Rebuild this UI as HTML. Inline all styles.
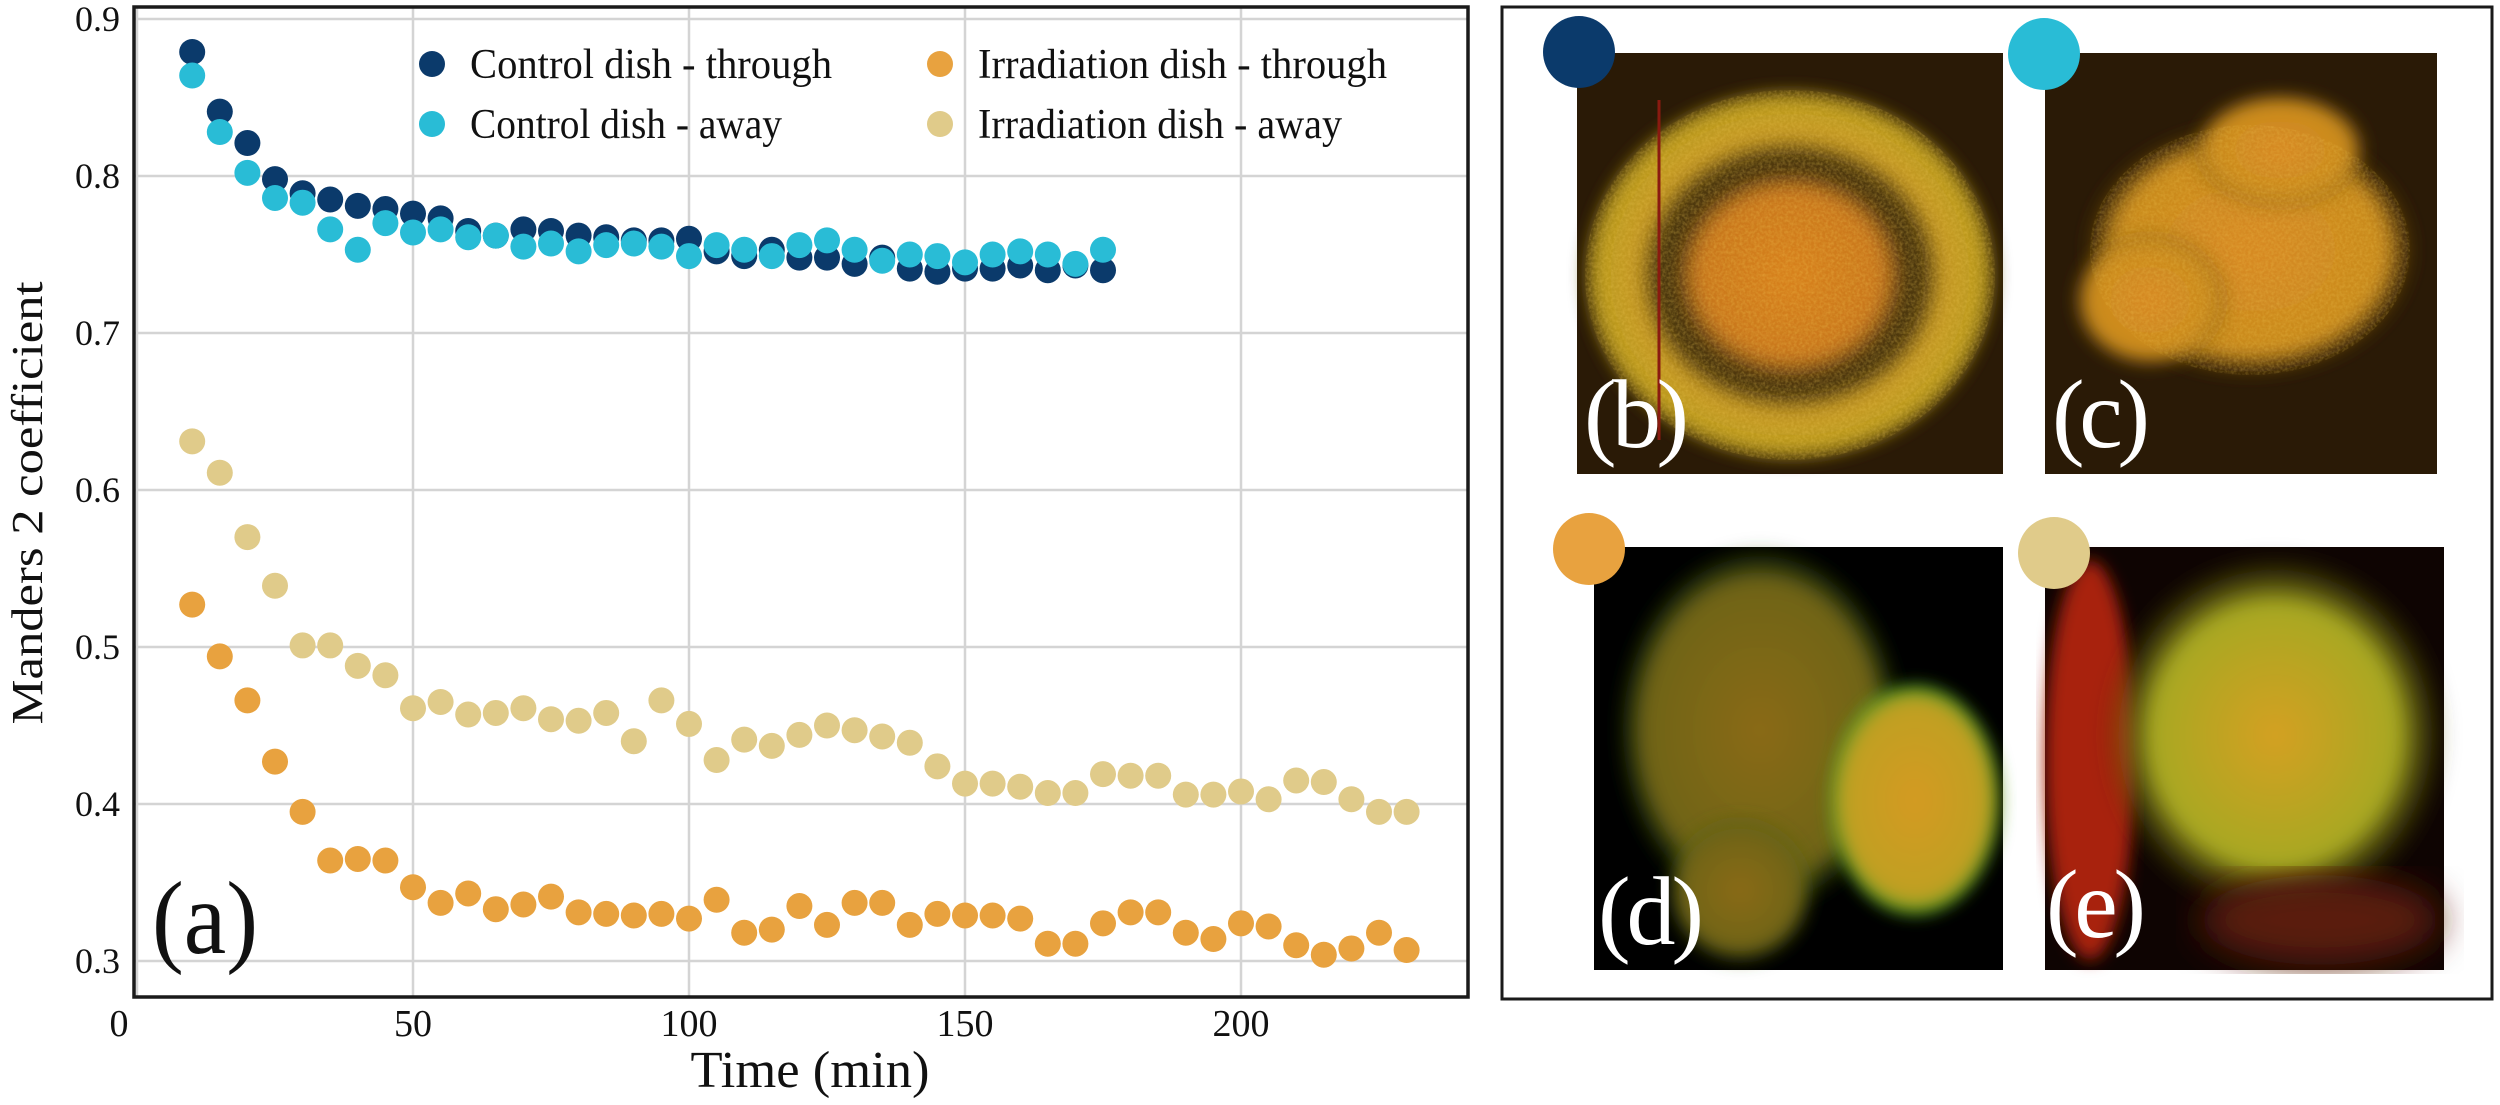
<!DOCTYPE html>
<html><head><meta charset="utf-8">
<style>
html,body{margin:0;padding:0;background:#fff;}
svg{display:block;font-family:"Liberation Serif",serif;}
</style></head>
<body>
<svg id="fig" width="2500" height="1105" viewBox="0 0 2500 1105" xmlns="http://www.w3.org/2000/svg">
<defs>
<filter id="blur8"><feGaussianBlur stdDeviation="8"/></filter>
<filter id="blur18"><feGaussianBlur stdDeviation="18"/></filter>
<filter id="grain" x="0" y="0" width="100%" height="100%">
<feTurbulence type="fractalNoise" baseFrequency="0.35" numOctaves="2" seed="3" result="n"/>
<feColorMatrix in="n" type="matrix" values="0 0 0 0 0.9  0 0 0 0 0.6  0 0 0 0 0.1  0 0 0 1.2 -0.4" result="c"/>
<feComposite in="c" in2="SourceGraphic" operator="in"/>
</filter>
<radialGradient id="ringB" cx="50%" cy="50%" r="50%">
<stop offset="0" stop-color="#d8821e"/><stop offset="0.45" stop-color="#c9781c"/><stop offset="0.55" stop-color="#4a3510"/><stop offset="0.66" stop-color="#4a3510"/><stop offset="0.75" stop-color="#c89a22"/><stop offset="0.95" stop-color="#b89a1e"/><stop offset="1" stop-color="#2a1a06"/>
</radialGradient>
<radialGradient id="blobC" cx="50%" cy="50%" r="50%">
<stop offset="0" stop-color="#d88a22"/><stop offset="0.8" stop-color="#c88b1e"/><stop offset="1" stop-color="#2a1a06" stop-opacity="0"/>
</radialGradient>
<radialGradient id="blobD1" cx="50%" cy="50%" r="50%">
<stop offset="0" stop-color="#8a6a18"/><stop offset="0.8" stop-color="#6f6418"/><stop offset="1" stop-color="#2f5a10" stop-opacity="0"/>
</radialGradient>
<radialGradient id="blobD2" cx="50%" cy="50%" r="50%">
<stop offset="0" stop-color="#d49a22"/><stop offset="0.85" stop-color="#bfa020"/><stop offset="1" stop-color="#2f9a20"/>
</radialGradient>
<radialGradient id="blobE" cx="50%" cy="50%" r="50%">
<stop offset="0" stop-color="#d4a020"/><stop offset="0.7" stop-color="#a7a820"/><stop offset="1" stop-color="#3a3a08" stop-opacity="0"/>
</radialGradient>
</defs>

<g id="chart"></g>

<rect x="1502" y="7" width="990" height="992" fill="#fff" stroke="#1a1a1a" stroke-width="3"/>

<g>
<rect x="1577" y="53" width="426" height="421" fill="#2a1a06"/>
<ellipse cx="1790" cy="275" rx="205" ry="185" fill="url(#ringB)" filter="url(#blur8)"/>
<ellipse cx="1790" cy="275" rx="205" ry="185" fill="#fff" filter="url(#grain)" opacity="0.45"/>
<line x1="1659" y1="100" x2="1659" y2="440" stroke="#8a1a10" stroke-width="3"/>
<text x="1584" y="447" font-size="98" fill="#fff" textLength="105">(b)</text>
</g>
<g>
<rect x="2045" y="53" width="392" height="421" fill="#2a1a06"/>
<ellipse cx="2250" cy="250" rx="170" ry="130" fill="url(#blobC)" filter="url(#blur8)"/>
<ellipse cx="2150" cy="300" rx="80" ry="70" fill="url(#blobC)" filter="url(#blur8)"/>
<ellipse cx="2280" cy="150" rx="90" ry="60" fill="url(#blobC)" filter="url(#blur8)"/>
<ellipse cx="2250" cy="250" rx="160" ry="125" fill="#fff" filter="url(#grain)" opacity="0.4"/>
<text x="2052" y="447" font-size="98" fill="#fff" textLength="98">(c)</text>
</g>
<g>
<rect x="1594" y="547" width="409" height="423" fill="#000"/>
<ellipse cx="1760" cy="730" rx="145" ry="185" fill="url(#blobD1)" filter="url(#blur8)"/>
<ellipse cx="1740" cy="890" rx="75" ry="75" fill="url(#blobD1)" filter="url(#blur8)"/>
<ellipse cx="1915" cy="800" rx="85" ry="115" fill="url(#blobD2)" filter="url(#blur8)"/>
<text x="1598" y="944" font-size="98" fill="#fff" textLength="106">(d)</text>
</g>
<g>
<rect x="2045" y="547" width="399" height="423" fill="#0e0402"/>
<ellipse cx="2090" cy="760" rx="45" ry="200" fill="#a8240e" filter="url(#blur8)"/>
<ellipse cx="2275" cy="735" rx="175" ry="185" fill="url(#blobE)" filter="url(#blur8)"/>
<ellipse cx="2320" cy="920" rx="120" ry="45" fill="#5a1a08" filter="url(#blur18)"/>
<text x="2046" y="937" font-size="98" fill="#fff" textLength="100">(e)</text>
</g>
<circle cx="1579" cy="52" r="36" fill="#0b3a6b"/>
<circle cx="2044" cy="54" r="36" fill="#29bcd6"/>
<circle cx="1589" cy="549" r="36" fill="#e8a23f"/>
<circle cx="2054" cy="553" r="36" fill="#e0cb8a"/>
</svg>

<script>
const controlTimes = [10,15,20,25,30,35,40,45,50,55,60,65,70,75,80,85,90,95,100,105,110,115,120,125,130,135,140,145,150,155,160,165,170,175];
const irradiationTimes = [10,15,20,25,30,35,40,45,50,55,60,65,70,75,80,85,90,95,100,105,110,115,120,125,130,135,140,145,150,155,160,165,170,175,180,185,190,195,200,205,210,215,220,225,230];
const controlThrough = [0.879,0.841,0.821,0.798,0.789,0.785,0.781,0.779,0.776,0.773,0.765,0.762,0.766,0.765,0.762,0.761,0.759,0.759,0.760,0.752,0.749,0.753,0.748,0.748,0.744,0.748,0.741,0.739,0.741,0.741,0.743,0.740,0.743,0.740];
const controlAway = [0.864,0.828,0.802,0.786,0.783,0.766,0.753,0.770,0.764,0.766,0.761,0.762,0.755,0.757,0.752,0.756,0.757,0.755,0.749,0.756,0.753,0.749,0.756,0.759,0.753,0.746,0.750,0.749,0.745,0.750,0.752,0.750,0.744,0.753];
const irradiationThrough = [0.527,0.494,0.466,0.427,0.395,0.364,0.365,0.364,0.347,0.337,0.343,0.333,0.336,0.341,0.331,0.330,0.329,0.330,0.327,0.339,0.318,0.320,0.335,0.323,0.337,0.337,0.323,0.330,0.329,0.329,0.327,0.311,0.311,0.324,0.331,0.331,0.318,0.314,0.324,0.322,0.310,0.304,0.308,0.318,0.307];
const irradiationAway = [0.631,0.611,0.570,0.539,0.501,0.501,0.488,0.482,0.461,0.465,0.457,0.458,0.461,0.454,0.453,0.458,0.440,0.466,0.451,0.428,0.441,0.437,0.444,0.450,0.447,0.443,0.439,0.424,0.413,0.413,0.411,0.407,0.407,0.419,0.418,0.418,0.406,0.406,0.408,0.403,0.415,0.414,0.403,0.395,0.395];
const yTicks = [0.3,0.4,0.5,0.6,0.7,0.8,0.9];
const yTickLabels = ["0.3","0.4","0.5","0.6","0.7","0.8","0.9"];
const xTicks = [0,50,100,150,200];
const xTickLabels = ["0","50","100","150","200"];

const NS = "http://www.w3.org/2000/svg";
const g = document.getElementById('chart');
const L = 134, R = 1468, T = 7, B = 997;
function xs(t){ return 137 + t * 5.52; }
function ys(v){ return 19 + (0.9 - v) * 1570; }
function mk(tag, attrs, parent){ const e = document.createElementNS(NS, tag); for (const k in attrs) e.setAttribute(k, attrs[k]); (parent||g).appendChild(e); return e; }

yTicks.forEach((v,i)=>{
  const ln = mk('line',{x1:L,x2:R,y1:ys(v),y2:ys(v),stroke:'#d4d4d4','stroke-width':2.5});
  
  
  const tx = mk('text',{x:120,y:ys(v)+12,'font-size':36,'text-anchor':'end',fill:'#111'});
  tx.textContent = yTickLabels[i];
  
  
});
xTicks.forEach((t,i)=>{
  const ln = mk('line',{x1:xs(t),x2:xs(t),y1:T,y2:B,stroke:'#d4d4d4','stroke-width':2.5});
  
  
  const tx = mk('text',{x:xs(t)-(t===0?18:0),y:1036,'font-size':38,'text-anchor':'middle',fill:'#111'});
  tx.textContent = xTickLabels[i];
  
  
});

function series(times, vals, color, name){
  const grp = mk('g',{});
  
  
  vals.forEach((v,i)=>{
    const c = mk('circle',{cx:xs(times[i]),cy:ys(v),r:13,fill:color},grp);
    
    
  });
}
series(irradiationTimes, irradiationAway, '#e0cb8a', 'irradiation-away-series');
series(irradiationTimes, irradiationThrough, '#e8a23f', 'irradiation-through-series');
series(controlTimes, controlThrough, '#0b3a6b', 'control-through-series');
series(controlTimes, controlAway, '#29bcd6', 'control-away-series');

const fr = mk('rect',{x:L,y:T,width:R-L,height:B-T,fill:'none',stroke:'#1a1a1a','stroke-width':3.5});



const legendItems = [
  {x:432,y:64,c:'#0b3a6b',t:'Control dish - through',w:362},
  {x:432,y:124,c:'#29bcd6',t:'Control dish - away',w:312},
  {x:940,y:64,c:'#e8a23f',t:'Irradiation dish - through',w:409},
  {x:940,y:124,c:'#e0cb8a',t:'Irradiation dish - away',w:364}
];
const lg = mk('g',{});


legendItems.forEach(it=>{
  const c = mk('circle',{cx:it.x,cy:it.y,r:13,fill:it.c},lg);
  
  
  const tx = mk('text',{x:it.x+38,y:it.y+14,'font-size':42,fill:'#111',textLength:it.w,lengthAdjust:'spacingAndGlyphs'},lg);
  tx.textContent = it.t;
  
  
});

const yl = mk('text',{x:0,y:0,'font-size':44,fill:'#111','text-anchor':'middle',transform:'translate(42,503) rotate(-90)',textLength:443,lengthAdjust:'spacingAndGlyphs'});
yl.textContent = 'Manders 2 coefficient';


const xl = mk('text',{x:810,y:1087,'font-size':52,fill:'#111','text-anchor':'middle',textLength:239,lengthAdjust:'spacingAndGlyphs'});
xl.textContent = 'Time (min)';


const pa = mk('text',{x:152,y:953,'font-size':104,fill:'#111',textLength:106,lengthAdjust:'spacingAndGlyphs'});
pa.textContent = '(a)';


</script>
</body></html>
